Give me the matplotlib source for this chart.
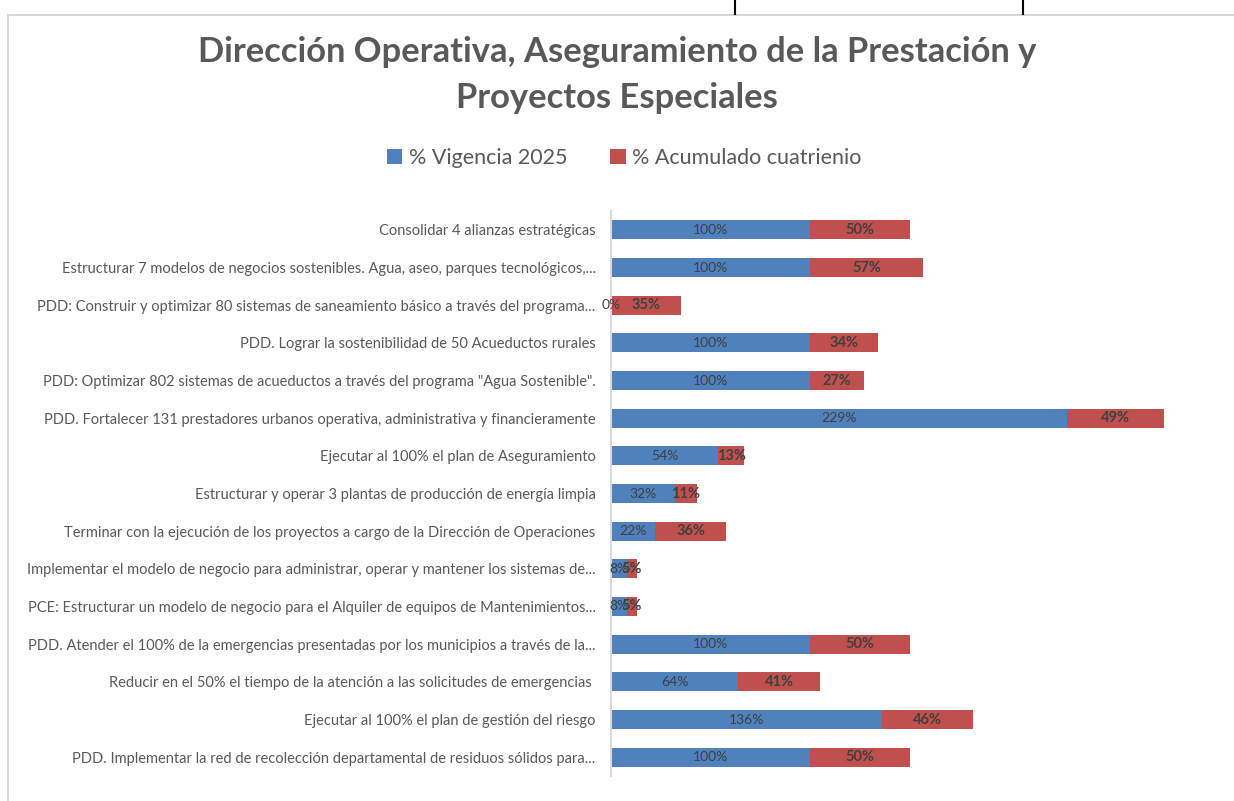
import matplotlib.pyplot as plt
import matplotlib.patches as mpatches
from matplotlib.lines import Line2D

categorias = [
    "Consolidar 4 alianzas estratégicas",
    "Estructurar 7 modelos de negocios sostenibles. Agua, aseo, parques tecnológicos,...",
    "PDD: Construir y optimizar 80 sistemas de saneamiento básico a través del programa...",
    "PDD. Lograr la sostenibilidad de 50 Acueductos rurales",
    "PDD: Optimizar 802 sistemas de acueductos a través del programa \"Agua Sostenible\".",
    "PDD. Fortalecer 131 prestadores urbanos operativa, administrativa y financieramente",
    "Ejecutar al 100% el plan de Aseguramiento",
    "Estructurar y operar 3 plantas de producción de energía limpia",
    "Terminar con la ejecución de los proyectos a cargo de la Dirección de Operaciones",
    "Implementar el modelo de negocio para administrar, operar y mantener los sistemas de...",
    "PCE: Estructurar un modelo de negocio para el Alquiler de equipos de Mantenimientos...",
    "PDD. Atender el 100% de la emergencias presentadas por los municipios a través de la...",
    "Reducir en el 50% el tiempo de la atención a las solicitudes de emergencias ",
    "Ejecutar al 100% el plan de gestión del riesgo",
    "PDD. Implementar la red de recolección departamental de residuos sólidos para...",
]
vigencia_2025 = [100, 100, 0, 100, 100, 229, 54, 32, 22, 8, 8, 100, 64, 136, 100]
acumulado_cuatrienio = [50, 57, 35, 34, 27, 49, 13, 11, 36, 5, 5, 50, 41, 46, 50]

azul = '#4F81BD'
rojo = '#C0504D'
gris_texto = '#595959'
FONT = ['Lato', 'DejaVu Sans']

plt.rcParams['font.family'] = FONT

fig = plt.figure(figsize=(12.34, 8.01), dpi=100)

# marco del area del grafico
fig.patches.append(mpatches.Rectangle((8 / 1234, -0.01), 1.02, 1 - 15 / 801 + 0.01,
                                      transform=fig.transFigure, fill=False,
                                      edgecolor='#D0D0D0', linewidth=1.2))
for xp in (735, 1023):
    fig.add_artist(Line2D([xp / 1234, xp / 1234], [1 - 14 / 801, 1], transform=fig.transFigure,
                          color='black', linewidth=1.5))

ax = fig.add_axes([611 / 1234, 1 - 776 / 801, (1208 - 611) / 1234, (776 - 211) / 801])

y = list(range(len(categorias)))
b1 = ax.barh(y, vigencia_2025, height=0.5, color=azul, label='% Vigencia 2025')
b2 = ax.barh(y, acumulado_cuatrienio, left=vigencia_2025, height=0.5, color=rojo,
             label='% Acumulado cuatrienio')

ax.bar_label(b1, labels=[f'{v}%' for v in vigencia_2025], label_type='center',
             fontsize=10, color='#404040')
ax.bar_label(b2, labels=[f'{v}%' for v in acumulado_cuatrienio], label_type='center',
             fontsize=10.5, color='#404040', fontweight='bold')

ax.set_xlim(0, 300)
ax.set_ylim(len(categorias) - 0.5, -0.5)
ax.set_yticks(y)
ax.set_yticklabels(categorias, fontsize=10.5, color=gris_texto)
ax.tick_params(axis='y', length=0, pad=11)
ax.set_xticks([])
for s in ('top', 'right', 'bottom'):
    ax.spines[s].set_visible(False)
ax.spines['left'].set_color('#D9D9D9')
ax.spines['left'].set_linewidth(1.5)

fig.text(0.5, 1 - 52 / 801, 'Dirección Operativa, Aseguramiento de la Prestación y',
         ha='center', va='center', fontsize=24.8, fontweight='bold', color=gris_texto)
fig.text(0.5, 1 - 98 / 801, 'Proyectos Especiales',
         ha='center', va='center', fontsize=24.8, fontweight='bold', color=gris_texto)

fig.legend(handles=[b1, b2], loc='center', bbox_to_anchor=(0.506, 1 - 158 / 801), ncol=2,
           frameon=False, fontsize=15.5, handlelength=0.7, handleheight=0.7,
           handletextpad=0.3, columnspacing=2.0, labelcolor=gris_texto)

fig.savefig('out.png', dpi=100)
